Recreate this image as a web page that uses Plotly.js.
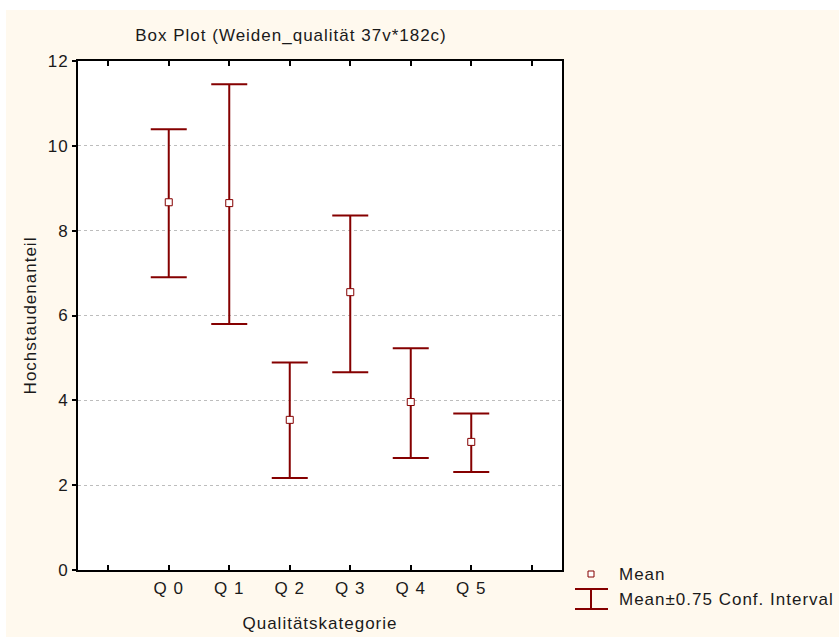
<!DOCTYPE html>
<html>
<head>
<meta charset="utf-8">
<script src="https://cdn.plot.ly/plotly-3.0.1.min.js"></script>
<style>
html, body { margin: 0; padding: 0; background: #ffffff; }
#chart { position: absolute; left: 6px; top: 10px; width: 833px; height: 627px; }
svg text { letter-spacing: 1px; }
</style>
</head>
<body>
<div id="chart"></div>
<script>
// Data
const categories = ["Q 0", "Q 1", "Q 2", "Q 3", "Q 4", "Q 5"];
const means = [8.67, 8.65, 3.54, 6.55, 3.96, 3.02];
const upperCI = [10.39, 11.45, 4.89, 8.36, 5.23, 3.69];
const lowerCI = [6.90, 5.80, 2.17, 4.66, 2.64, 2.31];
const yTicks = [0, 2, 4, 6, 8, 10, 12];

const xPos = categories.map((c, i) => i);
const errPlus = upperCI.map((u, i) => u - means[i]);
const errMinus = lowerCI.map((l, i) => means[i] - l);

const red = "#850000";
const font = "Arial, 'Liberation Sans', sans-serif";
const txt = "#1a1a1a";
const fs = 17;

const traceCI = {
  type: "scatter",
  mode: "markers",
  x: xPos,
  y: means,
  marker: { symbol: "square", size: 7, color: "#ffffff", line: { color: red, width: 1 } },
  error_y: { type: "data", symmetric: false, array: errPlus, arrayminus: errMinus,
             color: red, thickness: 2, width: 18 },
  showlegend: false,
  hoverinfo: "x+y"
};

// x ticks at every integer slot, labels only on categories
const tickvals = [-1].concat(xPos, [categories.length]);
const ticktext = [""].concat(categories, [""]);

const layout = {
  width: 833,
  height: 627,
  paper_bgcolor: "#FFF9EE",
  plot_bgcolor: "#ffffff",
  margin: { l: 72, r: 277, t: 51, b: 67 },
  showlegend: false,
  font: { family: font, size: fs, color: txt },
  title: {
    text: "Box Plot (Weiden_qualität 37v*182c)",
    x: (291 - 6) / 833, xanchor: "center", xref: "container",
    y: 1 - 25 / 627, yanchor: "middle", yref: "container",
    font: { family: font, size: fs, color: txt }
  },
  xaxis: {
    range: [-1.5, categories.length + 0.5],
    tickmode: "array", tickvals: tickvals, ticktext: ticktext,
    ticks: "inside", ticklen: 5, tickwidth: 2, tickcolor: "#000",
    showline: true, linecolor: "#000", linewidth: 2, mirror: "ticks",
    showgrid: false, zeroline: false,
    tickfont: { family: font, size: fs, color: txt },
    ticklabelstandoff: 2,
    title: { text: "Qualitätskategorie", standoff: 20, font: { family: font, size: fs, color: txt } },
    fixedrange: true
  },
  yaxis: {
    range: [0, 12],
    tickmode: "array", tickvals: yTicks,
    ticks: "outside", ticklen: 4, tickwidth: 2, tickcolor: "#000",
    showline: true, linecolor: "#000", linewidth: 2, mirror: true,
    showgrid: true, gridcolor: "#bdbdbd", griddash: "dot", gridwidth: 1,
    zeroline: false,
    tickfont: { family: font, size: fs, color: txt },
    title: { text: "Hochstaudenanteil", standoff: 7, font: { family: font, size: fs, color: txt } },
    fixedrange: true
  },
  shapes: [
    // legend: mean marker
    { type: "rect", xref: "paper", yref: "paper", xsizemode: "pixel", ysizemode: "pixel",
      xanchor: (591 - 78) / 484, yanchor: (570 - 574) / 509,
      x0: -3, x1: 3, y0: -3, y1: 3, fillcolor: "#ffffff", line: { color: red, width: 1 } },
    // legend: error bar symbol
    { type: "line", xref: "paper", yref: "paper",
      x0: (575 - 78) / 484, x1: (608 - 78) / 484, y0: (570 - 589) / 509, y1: (570 - 589) / 509,
      line: { color: red, width: 2 } },
    { type: "line", xref: "paper", yref: "paper",
      x0: (575 - 78) / 484, x1: (608 - 78) / 484, y0: (570 - 609) / 509, y1: (570 - 609) / 509,
      line: { color: red, width: 2 } },
    { type: "line", xref: "paper", yref: "paper",
      x0: (591 - 78) / 484, x1: (591 - 78) / 484, y0: (570 - 589) / 509, y1: (570 - 609) / 509,
      line: { color: red, width: 2 } }
  ],
  annotations: [
    { text: "Mean", xref: "paper", yref: "paper", x: (617 - 78) / 484, y: (570 - 574) / 509,
      xanchor: "left", yanchor: "middle", showarrow: false,
      font: { family: font, size: fs, color: txt } },
    { text: "Mean±0.75 Conf. Interval", xref: "paper", yref: "paper", x: (617 - 78) / 484, y: (570 - 599) / 509,
      xanchor: "left", yanchor: "middle", showarrow: false,
      font: { family: font, size: fs, color: txt } }
  ]
};

Plotly.newPlot("chart", [traceCI], layout, { displayModeBar: false, staticPlot: true });
</script>
</body>
</html>
